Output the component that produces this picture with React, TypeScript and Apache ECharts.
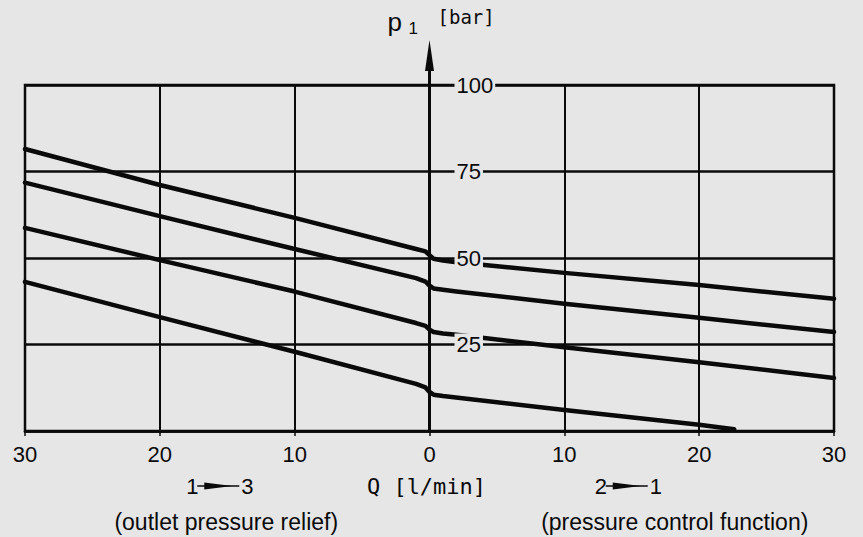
import React, { useEffect, useRef } from 'react';
import * as echarts from 'echarts';

// Flow Q [l/min]: negative = 1→3 (outlet pressure relief), positive = 2→1 (pressure control)
const flowTicks = [-30, -20, -10, 0, 10, 20, 30];
const pressureTicks = [0, 25, 50, 75, 100];

const curve1 = [
  [-30, 81.5], [-20, 71.1], [-10, 61.6], [-1, 52.6], [-0.3, 51.9], [0, 50.8],
  [0.3, 49.8], [1, 49.3], [2, 48.8], [10, 45.7], [20, 42.2], [30, 38.2],
];
const curve2 = [
  [-30, 71.8], [-20, 62.1], [-10, 52.6], [-1, 44.2], [-0.3, 43.2], [0, 42.0],
  [0.3, 41.2], [1, 40.8], [2, 40.3], [10, 36.8], [20, 32.7], [30, 28.6],
];
const curve3 = [
  [-30, 58.7], [-20, 49.4], [-10, 40.3], [-1, 31.2], [-0.3, 30.4], [0, 29.3],
  [0.3, 28.6], [1, 28.2], [2, 27.8], [10, 24.2], [20, 19.9], [30, 15.3],
];
const curve4 = [
  [-30, 43.1], [-20, 32.9], [-10, 22.9], [-1, 13.6], [-0.3, 12.6], [0, 11.3],
  [0.3, 10.5], [1, 10.1], [10, 6.1], [20, 1.8], [22.6, 0.5],
];

const curves = [curve1, curve2, curve3, curve4];

const BG = '#e6e6e6';
const INK = '#0a0a0a';
const GRID_LEFT = 25;
const GRID_RIGHT = 29;
const CHART_W = 863;

export default function App() {
  const ref = useRef<HTMLDivElement>(null);

  useEffect(() => {
    if (!ref.current) return;
    const chart = echarts.init(ref.current, null, { renderer: 'svg' });
    const halfWidth = (CHART_W - GRID_LEFT - GRID_RIGHT) / 2;
    chart.setOption({
      animation: false,
      backgroundColor: BG,
      grid: {
        left: GRID_LEFT, right: GRID_RIGHT, top: 85, bottom: 106,
        show: true, borderColor: INK, borderWidth: 2.5, backgroundColor: 'transparent',
      },
      xAxis: {
        type: 'value',
        min: flowTicks[0],
        max: flowTicks[flowTicks.length - 1],
        interval: 10,
        axisLine: { onZero: false, lineStyle: { color: INK, width: 2.5 } },
        axisTick: { show: true, length: 5, lineStyle: { color: INK, width: 1.5 } },
        axisLabel: {
          formatter: (v: number) => String(Math.abs(v)),
          color: INK, fontSize: 22, fontFamily: 'Liberation Sans', margin: 12,
        },
        splitLine: { show: true, lineStyle: { color: INK, width: 2 } },
      },
      yAxis: {
        type: 'value',
        position: 'left',
        offset: -halfWidth,
        min: pressureTicks[0],
        max: pressureTicks[pressureTicks.length - 1],
        interval: 25,
        z: 10,
        axisLine: { show: true, onZero: false, lineStyle: { color: INK, width: 3 } },
        axisTick: { show: false },
        axisLabel: {
          inside: true,
          margin: 25,
          showMinLabel: false,
          formatter: (v: number) => (v === 0 ? '' : String(v)),
          color: INK, fontSize: 22, fontFamily: 'Liberation Sans',
          backgroundColor: BG, padding: [0, 2],
        },
        splitLine: { show: true, lineStyle: { color: INK, width: 2.5 } },
      },
      series: curves.map((c, i) => ({
        name: 'curve' + (i + 1),
        type: 'line',
        data: c,
        showSymbol: false,
        symbol: 'none',
        lineStyle: { color: INK, width: 4.5, cap: 'round', join: 'round' },
        z: 3,
      })),
    });

    const top = chart.convertToPixel({ gridIndex: 0 }, [0, 100]) as number[];
    const ax = top[0];
    const ay = top[1];
    const leftMid = chart.convertToPixel({ gridIndex: 0 }, [-15, 0]) as number[];
    const rightMid = chart.convertToPixel({ gridIndex: 0 }, [15, 0]) as number[];
    const baseY = ay + 401;

    const flowArrow = (cx: number, a: string, b: string) => [
      { type: 'text', x: cx - 33, y: baseY, style: { text: a, font: '22px "Liberation Sans"', fill: INK, verticalAlign: 'middle', align: 'left' } },
      { type: 'line', shape: { x1: cx - 22, y1: baseY, x2: cx + 20, y2: baseY }, style: { stroke: INK, lineWidth: 1.5 } },
      { type: 'polygon', shape: { points: [[cx - 15, baseY - 3.5], [cx - 15, baseY + 3.5], [cx + 13, baseY]] }, style: { fill: INK } },
      { type: 'text', x: cx + 22, y: baseY, style: { text: b, font: '22px "Liberation Sans"', fill: INK, verticalAlign: 'middle', align: 'left' } },
    ];

    chart.setOption({
      graphic: [
        { type: 'line', shape: { x1: ax, y1: ay, x2: ax, y2: ay - 18 }, style: { stroke: INK, lineWidth: 3 }, z: 20 },
        { type: 'polygon', shape: { points: [[ax, ay - 45], [ax - 4.5, ay - 14], [ax + 4.5, ay - 14]] }, style: { fill: INK }, z: 20 },
        { type: 'text', x: ax - 42, y: ay - 63, style: { text: 'p', font: '26px "Liberation Sans"', fill: INK, verticalAlign: 'middle', align: 'left' } },
        { type: 'text', x: ax - 21, y: ay - 57, style: { text: '1', font: '17px "Liberation Sans"', fill: INK, verticalAlign: 'middle', align: 'left' } },
        { type: 'text', x: ax + 8, y: ay - 68, style: { text: '[bar]', font: '19px "DejaVu Sans Mono"', fill: INK, verticalAlign: 'middle', align: 'left' } },
        { type: 'text', x: ax - 3, y: baseY, style: { text: 'Q [l/min]', font: '22px "DejaVu Sans Mono"', fill: INK, verticalAlign: 'middle', align: 'center' } },
        ...flowArrow(leftMid[0] - 8, '1', '3'),
        ...flowArrow(rightMid[0] - 4, '2', '1'),
        { type: 'text', x: leftMid[0] - 1, y: baseY + 36, style: { text: '(outlet pressure relief)', font: '23px "Liberation Sans"', fill: INK, verticalAlign: 'middle', align: 'center' } },
        { type: 'text', x: rightMid[0] + 43, y: baseY + 36, style: { text: '(pressure control function)', font: '23px "Liberation Sans"', fill: INK, verticalAlign: 'middle', align: 'center' } },
      ],
    });

    return () => chart.dispose();
  }, []);

  return <div ref={ref} style={{ position: 'fixed', left: 0, top: 0, width: 863, height: 537 }} />;
}
